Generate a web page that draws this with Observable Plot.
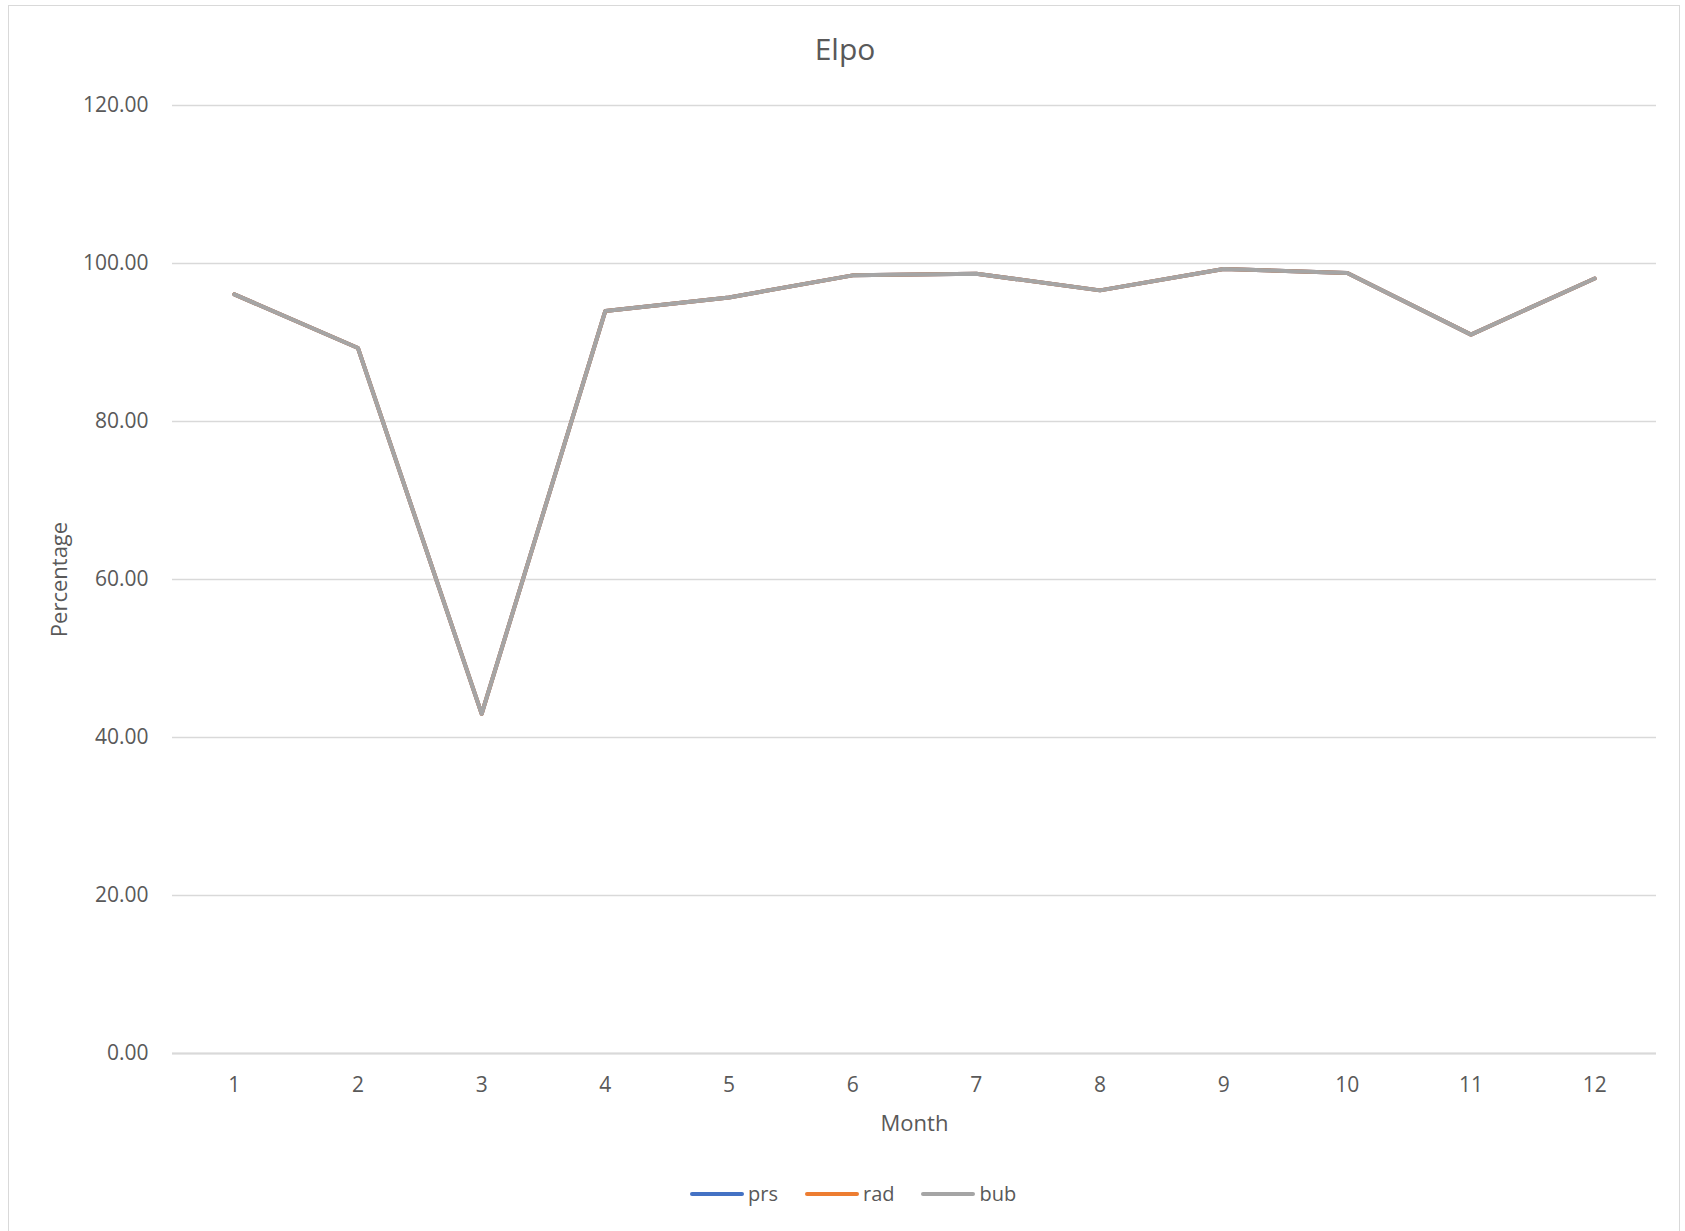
<!DOCTYPE html>
<html>
<head>
<meta charset="utf-8">
<script src="https://cdn.jsdelivr.net/npm/d3@7"></script>
<script src="https://cdn.jsdelivr.net/npm/@observablehq/plot@0.6"></script>
<style>
  html, body { margin: 0; padding: 0; background: #fff; }
  body { width: 1685px; height: 1231px; position: relative; overflow: hidden; font-family: "Open Sans", "Noto Sans", sans-serif; }
  #frame { position: absolute; left: 8px; top: 5px; width: 1672px; height: 1240px; border: 1.5px solid #d9d9d9; box-sizing: border-box; }
  #title { position: absolute; left: 0; width: 1690px; top: 28px; text-align: center; font-size: 30px; color: #595959; }
  #chart { position: absolute; left: 0; top: 0; }
  #legend { position: absolute; top: 1180px; left: 690px; display: flex; align-items: center; font-size: 20px; color: #595959; }
  .item { display: flex; align-items: center; margin-right: 27px; }
  .swatch { width: 54px; height: 4px; border-radius: 2px; margin-right: 4px; }
  #chart g[aria-label="x-axis label"] text, #chart g[aria-label="y-axis label"] text { font-size: 22px; }
</style>
</head>
<body>
<div id="frame"></div>
<div id="chart"></div>
<div id="title">Elpo</div>
<div id="legend"></div>
<script>
const months = [1, 2, 3, 4, 5, 6, 7, 8, 9, 10, 11, 12];
const prs = [96.1, 89.3, 43.0, 94.0, 95.7, 98.5, 98.7, 96.6, 99.3, 98.8, 91.0, 98.1];
const rad = [96.1, 89.3, 43.0, 94.0, 95.7, 98.5, 98.7, 96.6, 99.3, 98.8, 91.0, 98.1];
const bub = [96.1, 89.3, 43.0, 94.0, 95.7, 98.5, 98.7, 96.6, 99.3, 98.8, 91.0, 98.1];
const seriesNames = ["prs", "rad", "bub"];
const seriesColors = ["#4472C4", "#ED7D31", "#A5A5A5"];
const yTicks = [0, 20, 40, 60, 80, 100, 120];

const seriesValues = [prs, rad, bub];
const data = [];
seriesNames.forEach((name, i) => {
  months.forEach((m, j) => data.push({ series: name, month: m, value: seriesValues[i][j] }));
});

const chart = Plot.plot({
  width: 1685,
  height: 1231,
  marginTop: 105,
  marginBottom: 178,
  marginLeft: 172,
  marginRight: 29,
  style: { fontFamily: "'Open Sans', 'Noto Sans', sans-serif", fontSize: "21px", color: "#595959", background: "transparent" },
  x: { type: "point", domain: months, padding: 0.5, round: false, label: "Month", labelAnchor: "center", labelArrow: "none", tickSize: 0, tickPadding: 24, labelOffset: 77 },
  y: { domain: [0, 120], ticks: yTicks, tickFormat: d => d.toFixed(2), label: "Percentage", labelAnchor: "center", labelArrow: "none", tickSize: 0, tickPadding: 24, labelOffset: 121 },
  color: { domain: seriesNames, range: seriesColors },
  marks: [
    Plot.gridY(yTicks, { stroke: "#d9d9d9", strokeOpacity: 1, strokeWidth: 1.5 }),
    Plot.ruleY([0], { stroke: "#d9d9d9", strokeWidth: 2 }),
    Plot.line(data, { x: "month", y: "value", z: "series", stroke: "series", strokeWidth: 4, strokeLinejoin: "round", strokeLinecap: "round" })
  ]
});
document.getElementById("chart").appendChild(chart);

const legend = document.getElementById("legend");
seriesNames.forEach((name, i) => {
  const item = document.createElement("div");
  item.className = "item";
  const sw = document.createElement("div");
  sw.className = "swatch";
  sw.style.background = seriesColors[i];
  const t = document.createElement("span");
  t.textContent = name;
  item.appendChild(sw);
  item.appendChild(t);
  legend.appendChild(item);
});
</script>
</body>
</html>
